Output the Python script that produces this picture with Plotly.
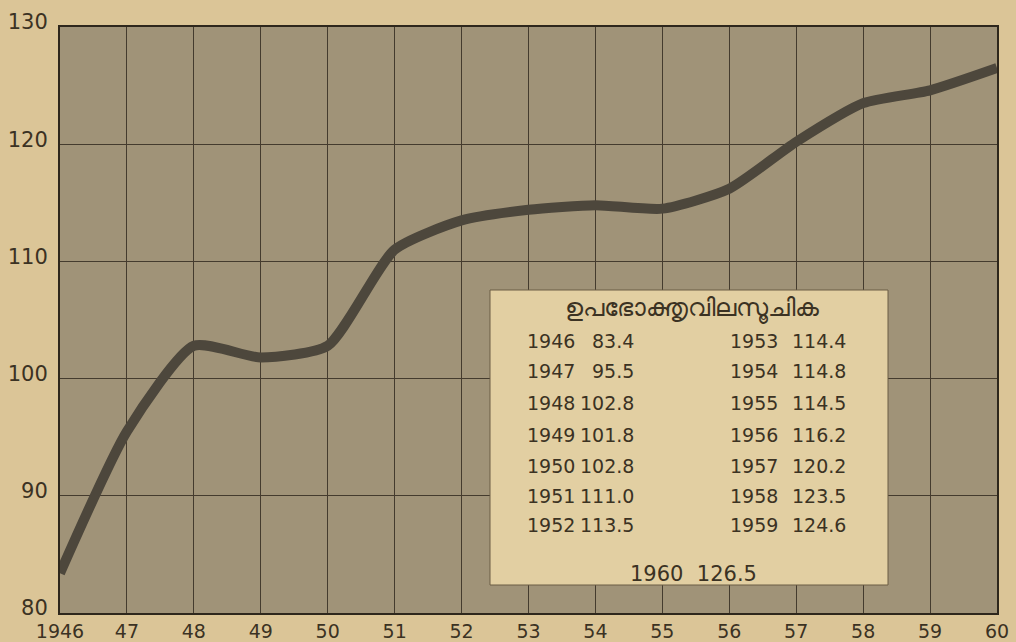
import plotly.graph_objects as go

years = [1946, 1947, 1948, 1949, 1950, 1951, 1952, 1953, 1954, 1955, 1956, 1957, 1958, 1959, 1960]
index_values = [83.4, 95.5, 102.8, 101.8, 102.8, 111.0, 113.5, 114.4, 114.8, 114.5, 116.2, 120.2, 123.5, 124.6, 126.5]
x_tick_labels = ["1946", "47", "48", "49", "50", "51", "52", "53", "54", "55", "56", "57", "58", "59", "60"]
y_ticks = [80, 90, 100, 110, 120, 130]
table_title = "ഉപഭോക്തൃവിലസൂചിക"

W, H = 1016, 642
L, R, T, B = 60, 997, 27, 613

def px(x):
    return (x - L) / (R - L)

def py(y):
    return (B - y) / (B - T)

ink = "#3b3223"
page = "#dbc597"
fig = go.Figure()
fig.add_trace(go.Scatter(
    x=years, y=index_values, mode="lines",
    line=dict(color="#4d473c", width=10, shape="spline", smoothing=0.6),
    hoverinfo="x+y", showlegend=False,
))

shapes = [
    dict(type="rect", xref="paper", yref="paper", x0=px(490), x1=px(888), y0=py(585), y1=py(290),
         fillcolor="#e2cfa2", line=dict(color="#6b5d45", width=1), layer="above"),
]

tfont = dict(size=19, color=ink, family="DejaVu Sans")
annotations = [
    dict(xref="paper", yref="paper", x=px(692), y=py(306), text=table_title, showarrow=False,
         font=dict(size=25, color=ink, family="Noto Sans, DejaVu Sans"), xanchor="center", yanchor="middle"),
]
row_y = [341, 371, 403, 435, 466, 496, 525]
for i in range(7):
    j = i + 7
    annotations.append(dict(xref="paper", yref="paper", x=px(525), y=py(row_y[i]), text=str(years[i]),
                            showarrow=False, xanchor="left", yanchor="middle", font=tfont))
    annotations.append(dict(xref="paper", yref="paper", x=px(636), y=py(row_y[i]), text=f"{index_values[i]:.1f}",
                            showarrow=False, xanchor="right", yanchor="middle", font=tfont))
    annotations.append(dict(xref="paper", yref="paper", x=px(728), y=py(row_y[i]), text=str(years[j]),
                            showarrow=False, xanchor="left", yanchor="middle", font=tfont))
    annotations.append(dict(xref="paper", yref="paper", x=px(848), y=py(row_y[i]), text=f"{index_values[j]:.1f}",
                            showarrow=False, xanchor="right", yanchor="middle", font=tfont))
annotations.append(dict(xref="paper", yref="paper", x=px(693), y=py(574),
                        text=f"{years[14]}  {index_values[14]:.1f}", showarrow=False,
                        xanchor="center", yanchor="middle",
                        font=dict(size=21, color=ink, family="DejaVu Sans")))

fig.update_layout(
    width=W, height=H,
    margin=dict(l=L, r=W - R, t=T, b=H - B),
    paper_bgcolor=page,
    plot_bgcolor="#a09378",
    font=dict(family="DejaVu Sans", color=ink, size=20),
    xaxis=dict(range=[1946, 1960], tickvals=years, ticktext=x_tick_labels,
               showgrid=True, gridcolor="#443b2e", gridwidth=1,
               showline=True, linecolor="#2e271c", linewidth=2, mirror=True,
               ticks="", zeroline=False, automargin=False, ticklabelstandoff=0,
               tickfont=dict(size=19, color=ink)),
    yaxis=dict(range=[80, 130], tickvals=y_ticks,
               showgrid=True, gridcolor="#443b2e", gridwidth=1,
               showline=True, linecolor="#2e271c", linewidth=2, mirror=True,
               ticks="", zeroline=False, automargin=False, ticklabelstandoff=6,
               ticklabelshift=-5, tickfont=dict(size=21, color=ink)),
    shapes=shapes, annotations=annotations,
)

post = ("document.body.style.margin='0';document.body.style.background='%s';"
        "document.documentElement.style.overflow='hidden';" % page)
fig.write_html("out.html", post_script=post, config={"displayModeBar": False})
